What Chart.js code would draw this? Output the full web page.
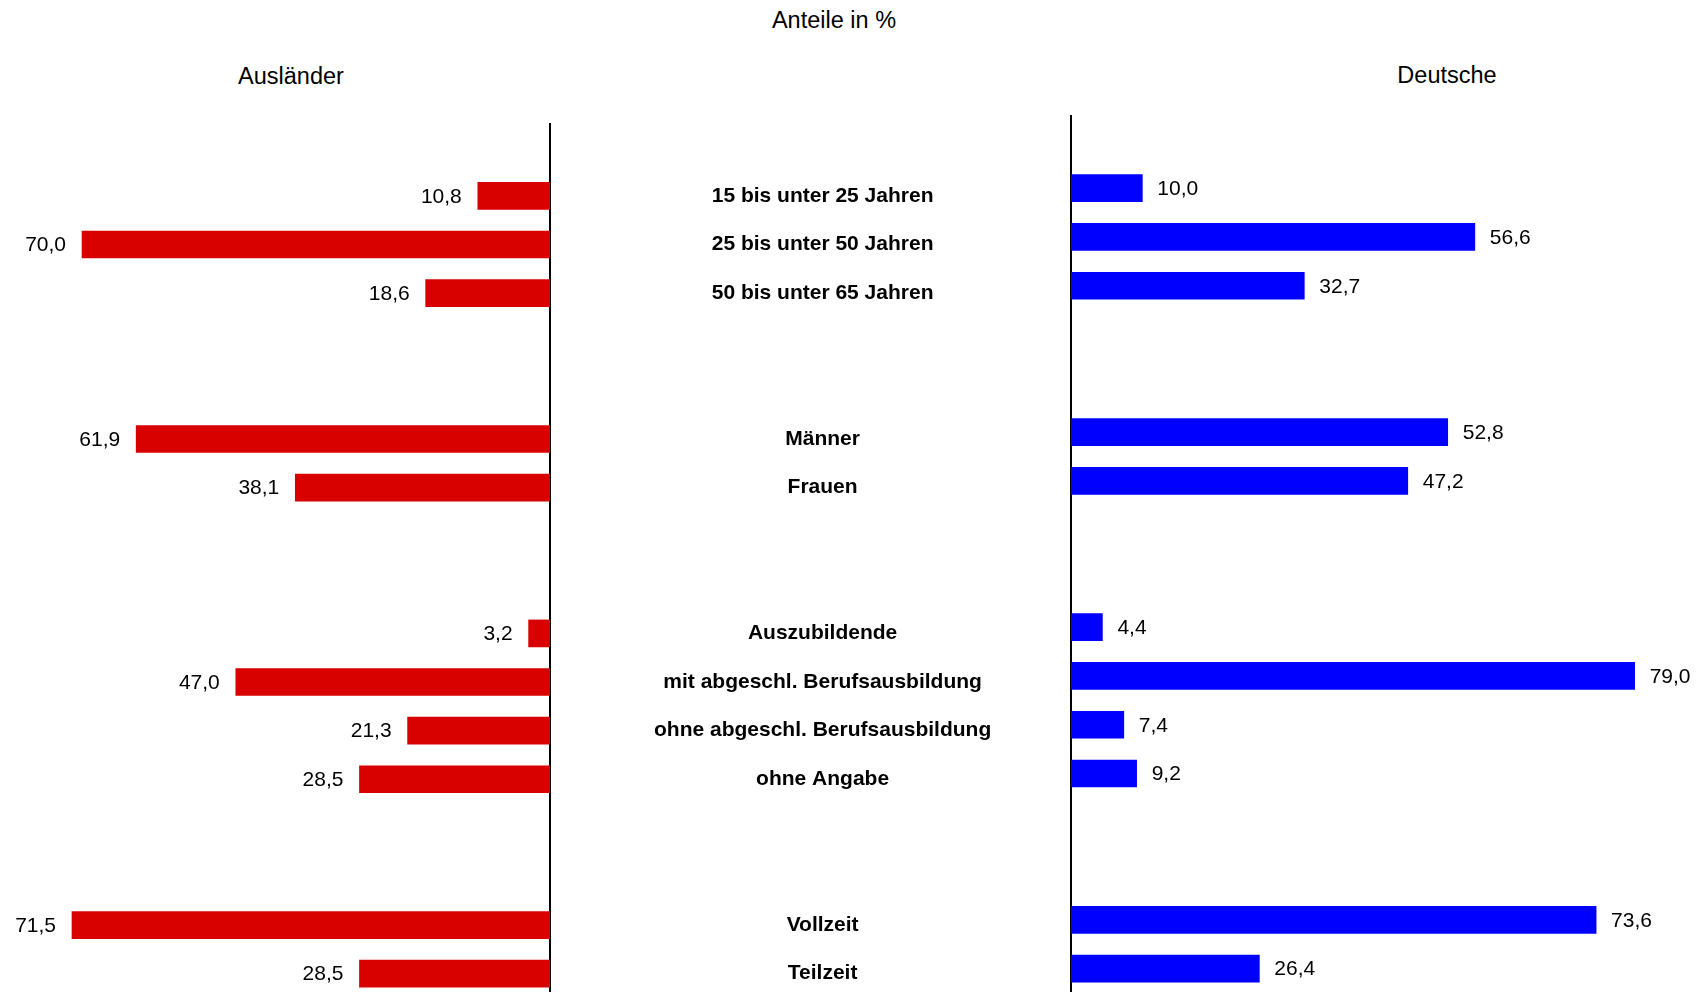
<!DOCTYPE html>
<html>
<head>
<meta charset="utf-8">
<script src="https://cdn.jsdelivr.net/npm/chart.js@4.4.0/dist/chart.umd.min.js"></script>
<style>
  html, body { margin: 0; padding: 0; background: #fff; overflow: hidden; }
  body { width: 1705px; height: 992px; position: relative; font-family: "Liberation Sans", Arial, sans-serif; }
  .head { position: absolute; width: 400px; text-align: center; font-size: 23.5px; line-height: 23px; color: #000; }
  canvas { position: absolute; }
</style>
</head>
<body>
<div class="head" style="left:634px; top:9px;">Anteile in %</div>
<div class="head" style="left:91px; top:65px;">Ausländer</div>
<div class="head" style="left:1247px; top:64px;">Deutsche</div>

<canvas id="chartLeft" width="1060" height="875" style="left:0; top:123px;"></canvas>
<canvas id="chartRight" width="645" height="878" style="left:1060px; top:115px;"></canvas>

<script>
// Kategorien, leere Einträge sind Abstände zwischen den Gruppen
var categories = ['', '15 bis unter 25 Jahren', '25 bis unter 50 Jahren', '50 bis unter 65 Jahren', '', '',
  'Männer', 'Frauen', '', '',
  'Auszubildende', 'mit abgeschl. Berufsausbildung', 'ohne abgeschl. Berufsausbildung', 'ohne Angabe', '', '',
  'Vollzeit', 'Teilzeit'];

var auslaender = [null, 10.8, 70.0, 18.6, null, null, 61.9, 38.1, null, null, 3.2, 47.0, 21.3, 28.5, null, null, 71.5, 28.5];
var deutsche   = [null, 10.0, 56.6, 32.7, null, null, 52.8, 47.2, null, null, 4.4, 79.0, 7.4, 9.2, null, null, 73.6, 26.4];

var fontFamily = '"Liberation Sans", Arial, sans-serif';

function formatValue(v) {
  return v.toFixed(1).replace('.', ',');
}

// schreibt die Werte neben die Balkenenden
var valueLabels = {
  id: 'valueLabels',
  afterDatasetsDraw: function(chart, args, opts) {
    var ctx = chart.ctx;
    var meta = chart.getDatasetMeta(0);
    var data = chart.data.datasets[0].data;
    ctx.save();
    ctx.font = '21px ' + fontFamily;
    ctx.fillStyle = '#000';
    ctx.textBaseline = 'middle';
    ctx.textAlign = opts.side === 'left' ? 'right' : 'left';
    meta.data.forEach(function(bar, i) {
      if (data[i] == null) return;
      var x = opts.side === 'left' ? bar.x - 16 : bar.x + 15;
      ctx.fillText(formatValue(data[i]), x, bar.y + 1);
    });
    ctx.restore();
  }
};

var ctxLeft = document.getElementById('chartLeft').getContext('2d');
var chartLeft = new Chart(ctxLeft, {
  type: 'bar',
  data: {
    labels: categories,
    datasets: [{
      label: 'Ausländer',
      data: auslaender,
      backgroundColor: '#d90000',
      barThickness: 27
    }]
  },
  plugins: [valueLabels],
  options: {
    indexAxis: 'y',
    responsive: false,
    animation: false,
    layout: { padding: 0 },
    plugins: {
      legend: { display: false },
      tooltip: { enabled: false },
      valueLabels: { side: 'left' }
    },
    scales: {
      x: {
        display: false,
        reverse: true,
        min: 0,
        max: 82.27
      },
      y: {
        position: 'right',
        grid: { display: false, drawTicks: false },
        border: { display: true, color: '#000', width: 2 },
        // Beschriftung in der Mitte zwischen beiden Achsen, ohne Zusatzabstand oben/unten
        afterFit: function(scale) {
          scale.width = 510;
          scale.paddingTop = 0;
          scale.paddingBottom = 0;
        },
        ticks: {
          crossAlign: 'center',
          padding: 104,
          autoSkip: false,
          color: '#000',
          font: { family: fontFamily, size: 21, weight: 'bold' }
        }
      }
    }
  }
});

var ctxRight = document.getElementById('chartRight').getContext('2d');
var chartRight = new Chart(ctxRight, {
  type: 'bar',
  data: {
    labels: categories,
    datasets: [{
      label: 'Deutsche',
      data: deutsche,
      backgroundColor: '#0000ff',
      barThickness: 27
    }]
  },
  plugins: [valueLabels],
  options: {
    indexAxis: 'y',
    responsive: false,
    animation: false,
    layout: { padding: 0 },
    plugins: {
      legend: { display: false },
      tooltip: { enabled: false },
      valueLabels: { side: 'right' }
    },
    scales: {
      x: {
        display: false,
        min: 0,
        max: 88.86
      },
      y: {
        position: 'left',
        grid: { display: false, drawTicks: false },
        border: { display: true, color: '#000', width: 2 },
        afterFit: function(scale) { scale.width = 11; },
        ticks: { display: false }
      }
    }
  }
});
</script>
</body>
</html>
